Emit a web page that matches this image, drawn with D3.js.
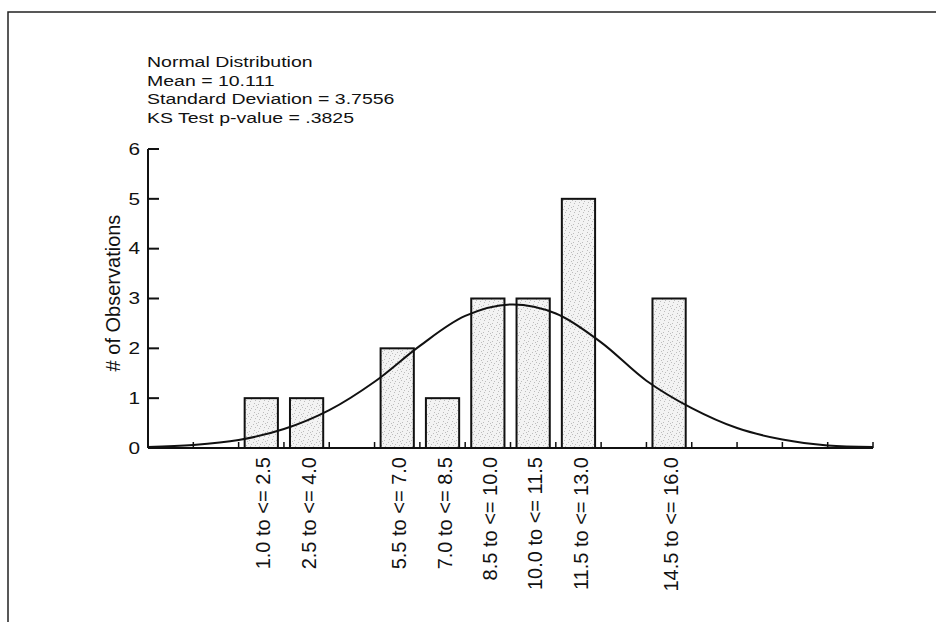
<!DOCTYPE html>
<html>
<head>
<meta charset="utf-8">
<script src="https://cdn.jsdelivr.net/npm/d3@7"></script>
<style>
  html, body { margin: 0; padding: 0; background: #fff; }
  svg { display: block; }
  text { font-family: "Liberation Sans", Arial, Helvetica, sans-serif; fill: #111; }
</style>
</head>
<body>
<svg id="chart" width="936" height="622"></svg>
<script>
// ---- data ----
const binLow   = [1.0, 2.5, 5.5, 7.0, 8.5, 10.0, 11.5, 14.5];
const binHigh  = [2.5, 4.0, 7.0, 8.5, 10.0, 11.5, 13.0, 16.0];
const binLabels = ["1.0 to <= 2.5", "2.5 to <= 4.0", "5.5 to <= 7.0", "7.0 to <= 8.5",
                   "8.5 to <= 10.0", "10.0 to <= 11.5", "11.5 to <= 13.0", "14.5 to <= 16.0"];
const counts   = [1, 1, 2, 1, 3, 3, 5, 3];
// fitted normal curve, heights at the bin edges
const curveX = [-2, -0.5, 1, 2.5, 4, 5.5, 7, 8.5, 10, 11.5, 13, 14.5, 16, 17.5, 19, 20.5, 22];
const curveY = [0.02, 0.06, 0.16, 0.38, 0.76, 1.33, 2.05, 2.65, 2.88, 2.70, 2.12, 1.35, 0.80, 0.40, 0.17, 0.05, 0.02];
const yTicks = [0, 1, 2, 3, 4, 5, 6];
const xTicks = [-0.5, 1, 2.5, 4, 5.5, 7, 8.5, 10, 11.5, 13, 14.5, 16, 17.5, 19, 20.5, 22];
const infoLines = ["Normal Distribution", "Mean = 10.111", "Standard Deviation = 3.7556", "KS Test p-value = .3825"];
const yTitle = "# of Observations";

// ---- drawing ----
const svg = d3.select("#chart");

// stipple pattern
const defs = svg.append("defs");
const pat = defs.append("pattern").attr("id", "stip").attr("patternUnits", "userSpaceOnUse")
  .attr("width", 9).attr("height", 9);
pat.append("rect").attr("width", 9).attr("height", 9).attr("fill", "#f3f3f3");
[[1,1],[5,2],[3,4],[7,5],[2,7],[6,8],[8,3],[4,0]].forEach(([a,b]) =>
  pat.append("rect").attr("x", a).attr("y", b).attr("width", 1).attr("height", 1).attr("fill", "#bdbdbd"));

// frame (open at right/bottom as cropped)
svg.append("path").attr("d", "M8,640 L8,12 L950,12")
  .attr("fill", "none").attr("stroke", "#222").attr("stroke-width", 1.5);

const x = d3.scaleLinear().domain([-2, 22]).range([148, 873]);
const y = d3.scaleLinear().domain([0, 6]).range([448, 149]);
const barPad = 0.2;

// bars
svg.append("g").selectAll("rect").data(counts).join("rect")
  .attr("x", (d, i) => x(binLow[i] + barPad))
  .attr("width", (d, i) => x(binHigh[i] - barPad) - x(binLow[i] + barPad))
  .attr("y", d => y(d))
  .attr("height", d => y(0) - y(d))
  .attr("fill", "url(#stip)")
  .attr("stroke", "#111").attr("stroke-width", 2);

// normal curve
const line = d3.line().x(d => x(d[0])).y(d => y(d[1])).curve(d3.curveCatmullRom.alpha(0.5));
svg.append("path").datum(curveX.map((v, i) => [v, curveY[i]]))
  .attr("d", line).attr("fill", "none").attr("stroke", "#111").attr("stroke-width", 2);

// y axis
const yAxis = svg.append("g");
yAxis.append("line").attr("x1", x(-2)).attr("x2", x(-2)).attr("y1", y(6)).attr("y2", y(0))
  .attr("stroke", "#111").attr("stroke-width", 2);
yAxis.selectAll("line.t").data(yTicks).join("line").attr("class", "t")
  .attr("x1", x(-2)).attr("x2", x(-2) + 11).attr("y1", d => y(d)).attr("y2", d => y(d))
  .attr("stroke", "#111").attr("stroke-width", 2);
yAxis.selectAll("text").data(yTicks).join("text")
  .attr("transform", d => `translate(${x(-2) - 8},${y(d)}) scale(1.3,1)`)
  .attr("dy", "0.36em")
  .attr("text-anchor", "end").attr("font-size", 16).text(d => d);

// x axis
const xAxis = svg.append("g");
xAxis.append("line").attr("x1", x(-2)).attr("x2", x(22)).attr("y1", y(0)).attr("y2", y(0))
  .attr("stroke", "#111").attr("stroke-width", 2);
xAxis.selectAll("line.t").data(xTicks).join("line").attr("class", "t")
  .attr("x1", d => x(d)).attr("x2", d => x(d)).attr("y1", y(0)).attr("y2", y(0) - 6)
  .attr("stroke", "#111").attr("stroke-width", 1.5);

// category labels (rotated)
svg.append("g").selectAll("text").data(binLabels).join("text")
  .attr("transform", (d, i) => `translate(${x((binLow[i] + binHigh[i]) / 2) + 2},457) rotate(-90)`)
  .attr("text-anchor", "end").attr("dy", "0.36em").attr("font-size", 20).text(d => d);

// y title
svg.append("text").attr("transform", "translate(113,293) rotate(-90)")
  .attr("text-anchor", "middle").attr("dy", "0.36em").attr("font-size", 20).text(yTitle);

// info text
svg.append("g").selectAll("text").data(infoLines).join("text")
  .attr("transform", (d, i) => `translate(147,${67 + i * 18.6}) scale(1.3,1)`)
  .attr("font-size", 15).text(d => d);
</script>
</body>
</html>
